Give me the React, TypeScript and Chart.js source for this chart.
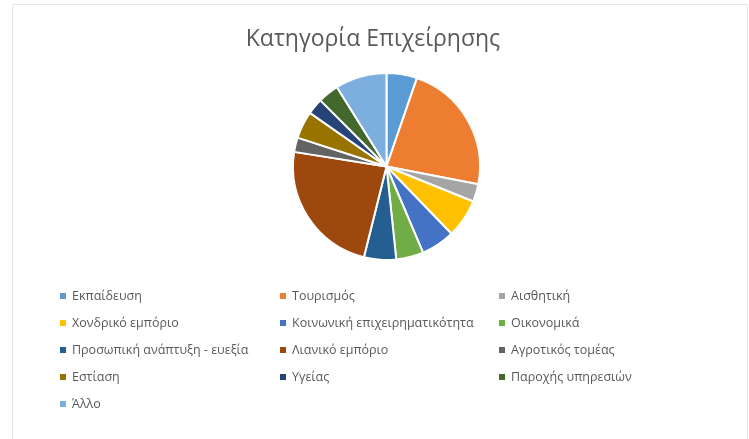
import React, { useEffect, useRef } from "react";
import { Chart, registerables } from "chart.js";

Chart.register(...registerables);

const TITLE = "Κατηγορία Επιχείρησης";

const categories = [
  "Εκπαίδευση",
  "Τουρισμός",
  "Αισθητική",
  "Χονδρικό εμπόριο",
  "Κοινωνική επιχειρηματικότητα",
  "Οικονομικά",
  "Προσωπική ανάπτυξη - ευεξία",
  "Λιανικό εμπόριο",
  "Αγροτικός τομέας",
  "Εστίαση",
  "Υγείας",
  "Παροχής υπηρεσιών",
  "Άλλο",
];

const values = [19, 82, 11, 24, 21, 17, 20, 85, 9, 17, 10, 13, 32];

const colors = [
  "#5B9BD5",
  "#ED7D31",
  "#A5A5A5",
  "#FFC000",
  "#4472C4",
  "#70AD47",
  "#255E91",
  "#9E480E",
  "#636363",
  "#997300",
  "#264478",
  "#43682B",
  "#7CAFDD",
];

const FONT = "'Open Sans', 'Noto Sans', sans-serif";

const overlayPlugin = {
  id: "overlay",
  afterDraw(chart: any) {
    const ctx = chart.ctx as CanvasRenderingContext2D;
    ctx.save();
    // frame
    ctx.strokeStyle = "#e6e6e6";
    ctx.lineWidth = 1;
    ctx.beginPath();
    ctx.moveTo(12.5, 439);
    ctx.lineTo(12.5, 4.5);
    ctx.lineTo(747.5, 4.5);
    ctx.lineTo(747.5, 439);
    ctx.stroke();
    // title
    ctx.fillStyle = "#595959";
    ctx.font = `23px ${FONT}`;
    ctx.textAlign = "center";
    ctx.textBaseline = "middle";
    ctx.fillText(TITLE, 373, 39);
    // legend
    ctx.font = `12.5px ${FONT}`;
    ctx.textAlign = "left";
    const colX = [60, 280, 499];
    const rowY0 = 296;
    const rowH = 27;
    let prevEnd = 0;
    categories.forEach((label, i) => {
      const col = i % 3;
      const row = Math.floor(i / 3);
      if (col === 0) prevEnd = 0;
      const x = Math.max(colX[col], prevEnd + 6);
      const y = rowY0 + row * rowH;
      ctx.fillStyle = colors[i];
      ctx.fillRect(x, y - 3, 6, 6);
      ctx.fillStyle = "#595959";
      ctx.fillText(label, x + 12, y);
      prevEnd = x + 12 + ctx.measureText(label).width;
    });
    ctx.restore();
  },
};

export default function App() {
  const ref = useRef<HTMLCanvasElement>(null);
  useEffect(() => {
    document.body.style.margin = "0";
    const chart = new Chart(ref.current!, {
      type: "pie",
      data: {
        labels: categories,
        datasets: [
          {
            data: values,
            backgroundColor: colors,
            borderColor: "#ffffff",
            borderWidth: 2,
          },
        ],
      },
      options: {
        animation: false,
        responsive: false,
        maintainAspectRatio: false,
        layout: { padding: { top: 72, bottom: 178, left: 100, right: 76 } },
        plugins: {
          legend: { display: false },
          title: { display: false },
          tooltip: { enabled: false },
        },
      },
      plugins: [overlayPlugin],
    });
    return () => chart.destroy();
  }, []);
  return (
    <div style={{ width: 749, height: 439, background: "#fff" }}>
      <canvas ref={ref} width={749} height={439} style={{ display: "block" }} />
    </div>
  );
}
